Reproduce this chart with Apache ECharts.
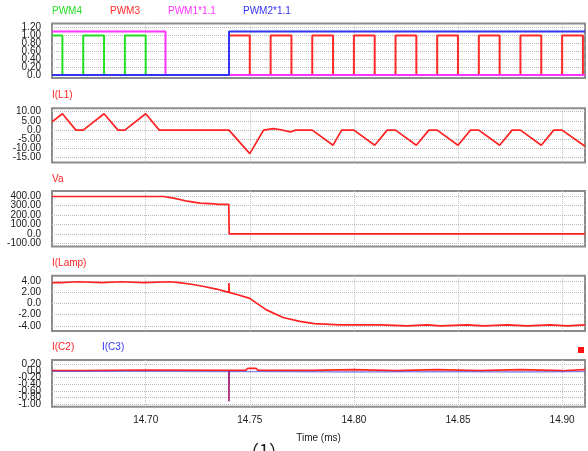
<!DOCTYPE html>
<html><head><meta charset="utf-8">
<script src="https://cdn.jsdelivr.net/npm/echarts@6/dist/echarts.min.js"></script>
<style>html,body{margin:0;padding:0;background:#fff}#c{width:588px;height:451px}</style>
</head><body><div id="c"></div>
<script>
// ---------- axis ticks ----------
const xTicks = [14.70, 14.75, 14.80, 14.85, 14.90];
const yTicks1 = [0, 0.2, 0.4, 0.6, 0.8, 1.0, 1.2];
const yTicks2 = [-15, -10, -5, 0, 5, 10];
const yTicks3 = [-100, 0, 100, 200, 300, 400];
const yTicks4 = [-4, -2, 0, 2, 4];
const yTicks5 = [-1.0, -0.8, -0.6, -0.4, -0.2, 0, 0.2];

// ---------- panel 1: PWM signals ----------
const pwm4T = [14.655, 14.660, 14.660, 14.670, 14.670, 14.680, 14.680, 14.690, 14.690, 14.700, 14.700, 14.911];
const pwm4V = [1, 1, 0, 0, 1, 1, 0, 0, 1, 1, 0, 0];
const pwm3T = [14.655, 14.740, 14.740, 14.750, 14.750, 14.760, 14.760, 14.770, 14.770, 14.780, 14.780, 14.790, 14.790, 14.800, 14.800, 14.810, 14.810, 14.820, 14.820, 14.830, 14.830, 14.840, 14.840, 14.850, 14.850, 14.860, 14.860, 14.870, 14.870, 14.880, 14.880, 14.890, 14.890, 14.900, 14.900, 14.910, 14.910, 14.911];
const pwm3V = [0, 0, 1, 1, 0, 0, 1, 1, 0, 0, 1, 1, 0, 0, 1, 1, 0, 0, 1, 1, 0, 0, 1, 1, 0, 0, 1, 1, 0, 0, 1, 1, 0, 0, 1, 1, 0, 0];
const pwm1T = [14.655, 14.7095, 14.7095, 14.911];
const pwm1V = [1.1, 1.1, 0, 0];
const pwm2T = [14.655, 14.740, 14.740, 14.911];
const pwm2V = [0, 0, 1.1, 1.1];

// ---------- panel 2: I(L1) ----------
const iL1T = [14.655, 14.660, 14.6665, 14.670, 14.680, 14.6867, 14.690, 14.700, 14.7065, 14.740, 14.750, 14.7566, 14.7613, 14.765, 14.7694, 14.772, 14.780, 14.790, 14.7941, 14.800, 14.810, 14.816, 14.820, 14.830, 14.836, 14.840, 14.850, 14.856, 14.860, 14.870, 14.876, 14.880, 14.890, 14.896, 14.900, 14.911];
const iL1V = [4.5, 8.9, 0, 0, 8.9, 0, 0, 8.9, 0, 0, -12.8, 0, 0.8, 0.2, -1.0, 0, 0, -8.2, 0, 0, -8.2, 0, 0, -8.2, 0, 0, -8.2, 0, 0, -8.2, 0, 0, -8.2, 0, 0, -8.8];

// ---------- panel 3: Va ----------
const vaT = [14.655, 14.7085, 14.714, 14.720, 14.726, 14.733, 14.735, 14.7399, 14.7401, 14.911];
const vaV = [395, 395, 375, 345, 325, 316, 312, 312, 0, 0];

// ---------- panel 4: I(Lamp) ----------
const iLampT = [14.655, 14.659, 14.659, 14.668, 14.668, 14.679, 14.679, 14.688, 14.688, 14.699, 14.699, 14.7115, 14.716, 14.722, 14.728, 14.734, 14.7399, 14.7400, 14.7401, 14.745, 14.750, 14.7534, 14.758, 14.766, 14.774, 14.781, 14.7935, 14.8127, 14.8127, 14.8255, 14.8255, 14.8351, 14.8351, 14.8415, 14.8415, 14.8543, 14.8543, 14.8624, 14.8624, 14.8736, 14.8736, 14.8832, 14.8832, 14.8944, 14.8944, 14.9024, 14.9024, 14.911];
const iLampV = [3.70, 3.70, 3.85, 3.85, 3.70, 3.70, 3.85, 3.85, 3.70, 3.70, 3.85, 3.85, 3.70, 3.40, 3.00, 2.55, 1.95, 3.60, 1.95, 1.45, 0.90, 0.0, -1.15, -2.50, -3.20, -3.60, -3.80, -3.80, -4.00, -4.00, -3.80, -3.80, -4.00, -4.00, -3.80, -3.80, -4.00, -4.00, -3.80, -3.80, -4.00, -4.00, -3.80, -3.80, -4.00, -4.00, -3.80, -3.80];

// ---------- panel 5: I(C2), I(C3) ----------
const iC2T = [14.655, 14.670, 14.670, 14.700, 14.700, 14.7399, 14.7400, 14.7401, 14.748, 14.749, 14.753, 14.754, 14.780, 14.780, 14.800, 14.800, 14.820, 14.820, 14.840, 14.840, 14.860, 14.860, 14.880, 14.880, 14.900, 14.900, 14.911];
const iC2V = [0.01, 0.01, 0.03, 0.03, 0.01, 0.02, -0.90, 0.02, 0.02, 0.08, 0.08, 0.02, 0.02, 0.04, 0.04, 0.01, 0.01, 0.04, 0.04, 0.01, 0.01, 0.04, 0.04, 0.01, 0.01, 0.04, 0.04];
const iC3T = [14.655, 14.690, 14.690, 14.7399, 14.7400, 14.7401, 14.760, 14.760, 14.800, 14.800, 14.840, 14.840, 14.880, 14.880, 14.911];
const iC3V = [-0.01, -0.01, -0.02, -0.02, -0.92, -0.02, -0.02, -0.03, -0.03, -0.02, -0.02, -0.03, -0.03, -0.02, -0.02];

const zip = (t, v) => t.map((x, i) => [x, v[i]]);
const fmtY = v => (Math.abs(v) < 1e-9 ? '0.0' : v.toFixed(2));
const evens = a => a.filter((_, i) => i % 2 === 0);
const odds = a => a.filter((_, i) => i % 2 === 1);

const grids = [
  {top: 23.5, height: 54.5},
  {top: 108.3, height: 54.2},
  {top: 191, height: 55.5},
  {top: 275.7, height: 55.3},
  {top: 360, height: 46.7}
];
const yRanges = [[-0.075, 1.3], [-17.6, 11.85], [-134, 453], [-4.9, 4.92], [-1.07, 0.33]];
const yTickSets = [yTicks1, yTicks2, yTicks3, yTicks4, yTicks5];

const labelStyle = {formatter: fmtY, fontSize: 10, color: '#1a1a1a', margin: 11,
  fontFamily: 'Liberation Sans', showMinLabel: true, showMaxLabel: true, hideOverlap: false};

const yAxes = [];
// primary axes (grid lines + even-index labels)
grids.forEach((g, i) => yAxes.push({
  type: 'value', gridIndex: i, min: yRanges[i][0], max: yRanges[i][1],
  axisLine: {show: false},
  axisTick: {show: false, customValues: yTickSets[i]},
  axisLabel: Object.assign({customValues: evens(yTickSets[i])}, labelStyle),
  splitLine: {show: true, lineStyle: {color: '#b8b8b8', type: 'dotted', width: 1}}
}));
// secondary axes (odd-index labels only)
grids.forEach((g, i) => yAxes.push({
  type: 'value', gridIndex: i, position: 'left', offset: 0, min: yRanges[i][0], max: yRanges[i][1],
  axisLine: {show: false},
  axisTick: {show: false, customValues: odds(yTickSets[i])},
  axisLabel: Object.assign({customValues: odds(yTickSets[i])}, labelStyle),
  splitLine: {show: false}
}));

const option = {
  animation: false,
  backgroundColor: '#fff',
  grid: grids.map(g => ({left: 52, right: 3, top: g.top, height: g.height, show: true,
    borderColor: '#8c8c8c', borderWidth: 2, backgroundColor: '#fff', containLabel: false})),
  xAxis: grids.map((g, i) => ({
    type: 'value', gridIndex: i, min: 14.655, max: 14.911,
    axisLine: {show: false},
    axisTick: {show: false, customValues: xTicks},
    axisLabel: {show: i === 4, customValues: xTicks, formatter: v => v.toFixed(2),
      fontSize: 10, color: '#1a1a1a', margin: 9, fontFamily: 'Liberation Sans',
      showMinLabel: true, showMaxLabel: true, hideOverlap: false},
    splitLine: {show: true, lineStyle: {color: '#c4c4c4', type: 'dotted', width: 1}},
    name: i === 4 ? 'Time (ms)' : '', nameLocation: 'middle', nameGap: 27,
    nameTextStyle: {fontSize: 10, color: '#1a1a1a', fontFamily: 'Liberation Sans'}
  })),
  yAxis: yAxes,
  series: [
    {name: 'PWM4', type: 'line', xAxisIndex: 0, yAxisIndex: 0, data: zip(pwm4T, pwm4V), showSymbol: false, lineStyle: {color: '#22e022', width: 2}},
    {name: 'PWM3', type: 'line', xAxisIndex: 0, yAxisIndex: 0, data: zip(pwm3T, pwm3V), showSymbol: false, lineStyle: {color: '#ff2a2a', width: 2}},
    {name: 'PWM1*1.1', type: 'line', xAxisIndex: 0, yAxisIndex: 0, data: zip(pwm1T, pwm1V), showSymbol: false, lineStyle: {color: '#ff33ff', width: 2}},
    {name: 'PWM2*1.1', type: 'line', xAxisIndex: 0, yAxisIndex: 0, data: zip(pwm2T, pwm2V), showSymbol: false, lineStyle: {color: '#3333f0', width: 2}},
    {name: 'I(L1)', type: 'line', xAxisIndex: 1, yAxisIndex: 1, data: zip(iL1T, iL1V), showSymbol: false, lineStyle: {color: '#ff2222', width: 1.7}},
    {name: 'Va', type: 'line', xAxisIndex: 2, yAxisIndex: 2, data: zip(vaT, vaV), showSymbol: false, lineStyle: {color: '#ff2222', width: 1.7}},
    {name: 'I(Lamp)', type: 'line', xAxisIndex: 3, yAxisIndex: 3, data: zip(iLampT, iLampV), showSymbol: false, lineStyle: {color: '#ff2222', width: 1.7}},
    {name: 'I(C2)', type: 'line', xAxisIndex: 4, yAxisIndex: 4, data: zip(iC2T, iC2V), showSymbol: false, lineStyle: {color: '#ff2222', width: 1.6}},
    {name: 'I(C3)', type: 'line', xAxisIndex: 4, yAxisIndex: 4, data: zip(iC3T, iC3V), showSymbol: false, lineStyle: {color: '#3a3af0', width: 1.3, opacity: 0.55}}
  ],
  graphic: [
    {type: 'text', x: 52, y: 11, style: {text: 'PWM4', fill: '#22e022', font: '10px "Liberation Sans"', verticalAlign: 'middle'}},
    {type: 'text', x: 110, y: 11, style: {text: 'PWM3', fill: '#ff2a2a', font: '10px "Liberation Sans"', verticalAlign: 'middle'}},
    {type: 'text', x: 168, y: 11, style: {text: 'PWM1*1.1', fill: '#ff33ff', font: '10px "Liberation Sans"', verticalAlign: 'middle'}},
    {type: 'text', x: 243, y: 11, style: {text: 'PWM2*1.1', fill: '#3333f0', font: '10px "Liberation Sans"', verticalAlign: 'middle'}},
    {type: 'text', x: 52, y: 95, style: {text: 'I(L1)', fill: '#ff2222', font: '10px "Liberation Sans"', verticalAlign: 'middle'}},
    {type: 'text', x: 52, y: 179.5, style: {text: 'Va', fill: '#ff2222', font: '10px "Liberation Sans"', verticalAlign: 'middle'}},
    {type: 'text', x: 52, y: 263.5, style: {text: 'I(Lamp)', fill: '#ff2222', font: '10px "Liberation Sans"', verticalAlign: 'middle'}},
    {type: 'text', x: 52, y: 347.5, style: {text: 'I(C2)', fill: '#ff2222', font: '10px "Liberation Sans"', verticalAlign: 'middle'}},
    {type: 'text', x: 102, y: 347.5, style: {text: 'I(C3)', fill: '#3333f0', font: '10px "Liberation Sans"', verticalAlign: 'middle'}},
    {type: 'rect', shape: {x: 578, y: 347, width: 6, height: 6}, style: {fill: '#ff1111'}},
    {type: 'text', x: 241, y: 442, style: {text: '（1）', fill: '#222', font: '18px "Noto Sans CJK SC"'}}
  ]
};
const chart = echarts.init(document.getElementById('c'), null, {renderer: 'canvas'});
chart.setOption(option);
</script>
</body></html>
